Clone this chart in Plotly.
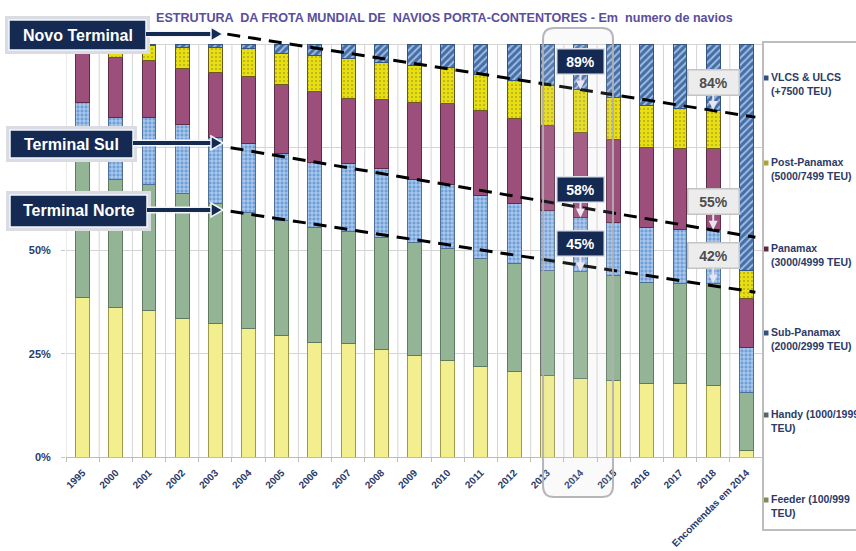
import numpy as np
import plotly.graph_objects as go

# ---- data: share of the world container-ship fleet (% of ships) ----
categories = ["1995", "2000", "2001", "2002", "2003", "2004", "2005", "2006", "2007",
              "2008", "2009", "2010", "2011", "2012", "2013", "2014", "2015", "2016",
              "2017", "2018", "Encomendas em 2014"]

feeder = [38.7, 36.3, 35.5, 33.6, 32.3, 31.0, 29.4, 27.8, 27.4, 26.0, 24.6, 23.4, 21.8,
          20.6, 19.8, 19.0, 18.5, 17.7, 17.7, 17.3, 1.6]
handy = [33.1, 31.0, 30.6, 30.1, 29.0, 28.3, 27.9, 27.8, 27.3, 27.2, 27.4, 27.0, 26.2,
         26.2, 25.4, 26.0, 25.5, 24.6, 24.2, 24.7, 14.1]
sub_panamax = [14.1, 15.0, 16.0, 16.8, 16.1, 16.5, 16.1, 15.8, 16.3, 16.6, 15.3, 15.6, 15.3,
               14.5, 14.5, 13.0, 12.9, 13.3, 13.3, 13.0, 10.9]
panamax = [14.1, 14.5, 13.9, 13.5, 15.6, 16.3, 16.7, 17.1, 15.9, 16.7, 18.6, 19.5, 20.6,
           20.7, 20.5, 20.6, 20.1, 19.4, 19.4, 19.6, 11.7]
post_panamax = [0.0, 3.2, 3.6, 5.2, 6.2, 6.9, 7.5, 8.7, 9.5, 9.1, 8.9, 8.9, 8.8,
                9.1, 9.7, 10.4, 10.1, 10.1, 9.7, 9.4, 6.9]
vlcs_ulcs = [0.0, 0.0, 0.4, 0.8, 0.8, 1.0, 2.4, 2.8, 3.6, 4.4, 5.2, 5.6, 7.3,
             8.9, 10.1, 11.0, 12.9, 14.9, 15.7, 16.0, 54.8]

# 75% and 100% labels sit behind the terminal boxes, so they are left blank
y_ticks = [0, 25, 50, 75, 100]
y_tick_labels = ["0%", "25%", "50%", "", ""]

# terminal trend lines: [x_start, y_start, x_end, y_end] in (category index, %)
novo_terminal_line = [4.36, 102.4, 20.27, 82.3]
terminal_sul_line = [4.46, 74.9, 20.27, 53.2]
terminal_norte_line = [4.46, 59.5, 20.27, 39.9]

# years whose cumulative shares are called out
highlight_year = "2014"
compare_year = "2018"

# ---- figure geometry ----
W, H = 856, 551
ML, MR, MT, MB = 66, 93, 11, 94
PW, PH = W - ML - MR, H - MT - MB
Y_MAX = 108


def fx(px):
    return (px - ML) / PW


def fy(py):
    return (H - MB - py) / PH


NAVY = "#142a52"
TXT = "#2b3a67"
FONT = "Liberation Sans, Arial, sans-serif"

fig = go.Figure()

series = [
    ("Feeder (100/999 TEU)", feeder,
     dict(color="#f3ef8e", line=dict(color="#9d9a4e", width=1))),
    ("Handy (1000/1999 TEU)", handy,
     dict(color="#93b595", line=dict(color="#5f7a5f", width=1))),
    ("Sub-Panamax (2000/2999 TEU)", sub_panamax,
     dict(color="#78a8df", line=dict(color="#50709a", width=1),
          pattern=dict(shape="+", fgcolor="#eef5ff", bgcolor="#6f9fd9", size=4,
                       solidity=0.25, fillmode="replace"))),
    ("Panamax (3000/4999 TEU)", panamax,
     dict(color="#9c4f7a", line=dict(color="#5e2c47", width=1))),
    ("Post-Panamax (5000/7499 TEU)", post_panamax,
     dict(color="#e6dd10", line=dict(color="#6b5a20", width=1),
          pattern=dict(shape=".", fgcolor="#b3ab1c", bgcolor="#e8df12", size=4,
                       solidity=0.2, fillmode="replace"))),
    ("VLCS & ULCS (+7500 TEU)", vlcs_ulcs,
     dict(color="#4a74ad", line=dict(color="#34557f", width=1),
          pattern=dict(shape="/", fgcolor="#a0bde2", bgcolor="#456ea6", size=5,
                       solidity=0.4, fillmode="replace"))),
]

for name, vals, marker in series:
    fig.add_trace(go.Bar(x=categories, y=vals, name=name, marker=marker,
                         showlegend=False, hoverinfo="skip"))

shapes = []

# vertical grid at category boundaries, from 0% to 100%
for k in range(len(categories) + 1):
    shapes.append(dict(type="line", xref="x", yref="y", x0=k - 0.5, x1=k - 0.5,
                       y0=0, y1=100, line=dict(color="#d4d4d4", width=1), layer="below"))

# dashed terminal trend lines
for ln in (novo_terminal_line, terminal_sul_line, terminal_norte_line):
    shapes.append(dict(type="line", xref="x", yref="y", x0=ln[0], y0=ln[1],
                       x1=ln[2], y1=ln[3], line=dict(color="black", width=3, dash="13px,8px")))

# rounded highlight frame around the highlighted year
hx0, hx1, hy0, hy1, r = 543, 613, 28, 497, 11
pts = [("M", hx0 + r, hy0), ("L", hx1 - r, hy0), ("Q", hx1, hy0, hx1, hy0 + r),
       ("L", hx1, hy1 - r), ("Q", hx1, hy1, hx1 - r, hy1), ("L", hx0 + r, hy1),
       ("Q", hx0, hy1, hx0, hy1 - r), ("L", hx0, hy0 + r), ("Q", hx0, hy0, hx0 + r, hy0)]
path = ""
for p in pts:
    cmd, coords = p[0], p[1:]
    xy = []
    for i in range(0, len(coords), 2):
        xy.append(f"{fx(coords[i]):.4f},{fy(coords[i + 1]):.4f}")
    path += cmd + " ".join(xy) + " "
path += "Z"
shapes.append(dict(type="path", xref="paper", yref="paper", path=path,
                   fillcolor="rgba(215,215,218,0.12)",
                   line=dict(color="rgba(175,175,180,0.9)", width=2)))

# legend panel
shapes.append(dict(type="rect", xref="paper", yref="paper", x0=fx(763), x1=fx(875),
                   y0=fy(42), y1=fy(530), fillcolor="white",
                   line=dict(color="#bdbdbd", width=2)))

# terminal callout boxes with arrows
boxes = [("Novo Terminal", 9, 146, 20, 50, 34),
         ("Terminal Sul", 10, 133, 130, 158, 143),
         ("Terminal Norte", 10, 147, 195, 227, 210)]
annotations = []
for text, bx0, bx1, by0, by1, ay in boxes:
    shapes.append(dict(type="rect", xref="paper", yref="paper", x0=fx(bx0 - 4), x1=fx(bx1 + 4),
                       y0=fy(by0 - 4), y1=fy(by1 + 4), fillcolor="#d9dce2",
                       line=dict(width=0)))
    shapes.append(dict(type="rect", xref="paper", yref="paper", x0=fx(bx0), x1=fx(bx1),
                       y0=fy(by0), y1=fy(by1), fillcolor=NAVY,
                       line=dict(color="#f4f6fa", width=1.5)))
    shapes.append(dict(type="line", xref="paper", yref="paper", x0=fx(bx1), x1=fx(213),
                       y0=fy(ay), y1=fy(ay), line=dict(color="#f4f6fa", width=7)))
    shapes.append(dict(type="line", xref="paper", yref="paper", x0=fx(bx1), x1=fx(214),
                       y0=fy(ay), y1=fy(ay), line=dict(color=NAVY, width=4)))
    head = (f"M{fx(211):.4f},{fy(ay - 7):.4f} L{fx(223):.4f},{fy(ay):.4f} "
            f"L{fx(211):.4f},{fy(ay + 7):.4f} Z")
    shapes.append(dict(type="path", xref="paper", yref="paper", path=head,
                       fillcolor=NAVY, line=dict(color="#f4f6fa", width=1.5)))
    annotations.append(dict(xref="paper", yref="paper", x=fx((bx0 + bx1) / 2),
                            y=fy((by0 + by1) / 2), text=text, showarrow=False,
                            xanchor="center", yanchor="middle",
                            font=dict(family=FONT, size=16, color="white", weight="bold")))

# cumulative share callouts for the highlighted and comparison years
stack = np.array([feeder, handy, sub_panamax, panamax, post_panamax], dtype=float)
cum = np.cumsum(stack, axis=0)
for year, dark in ((highlight_year, True), (compare_year, False)):
    i = categories.index(year)
    for level in (4, 2, 1):
        val = round(float(cum[level][i]), 1)
        annotations.append(dict(
            x=i, y=val, xref="x", yref="y", text=f"{val:.0f}%", showarrow=True,
            axref="pixel", ayref="pixel", ax=0, ay=-28,
            arrowhead=2, arrowsize=0.9, arrowwidth=2,
            arrowcolor="#efe6f2" if dark else "#e6e6ee",
            bgcolor=NAVY if dark else "#ececec",
            bordercolor="#dde2ea" if dark else "#c4c4c4", borderwidth=1.5, borderpad=4,
            width=38 if dark else 42,
            font=dict(family=FONT, size=14, weight="bold",
                      color="white" if dark else "#4d4d4d")))

# legend entries (top to bottom)
legend_items = [("VLCS & ULCS", "(+7500 TEU)", "#2f4f80", 78),
                ("Post-Panamax", "(5000/7499 TEU)", "#a9a236", 163),
                ("Panamax", "(3000/4999 TEU)", "#5a2a44", 249),
                ("Sub-Panamax", "(2000/2999 TEU)", "#34507c", 333),
                ("Handy (1000/1999", "TEU)", "#56695a", 415),
                ("Feeder (100/999", "TEU)", "#7f8a5a", 500)]
for l1, l2, mcol, ly in legend_items:
    shapes.append(dict(type="rect", xref="paper", yref="paper", x0=fx(764), x1=fx(768.5),
                       y0=fy(ly - 2.5), y1=fy(ly + 2.5), fillcolor=mcol, line=dict(width=0)))
    annotations.append(dict(xref="paper", yref="paper", x=fx(769), y=fy(ly + 6),
                            text=f"{l1}<br>{l2}", showarrow=False, xanchor="left",
                            yanchor="middle", align="left",
                            font=dict(family=FONT, size=10.5, color=TXT, weight="bold")))

# chart title
annotations.append(dict(xref="paper", yref="paper", x=fx(444), y=fy(18),
                        text="ESTRUTURA  DA FROTA MUNDIAL DE  NAVIOS PORTA-CONTENTORES - Em  numero de navios",
                        showarrow=False, xanchor="center", yanchor="middle",
                        font=dict(family=FONT, size=12.6, color="#5a4e9e", weight="bold")))

fig.update_layout(
    width=W, height=H,
    margin=dict(l=ML, r=MR, t=MT, b=MB, pad=0, autoexpand=False),
    barmode="stack", bargap=0.58,
    plot_bgcolor="white", paper_bgcolor="white",
    shapes=shapes, annotations=annotations,
    showlegend=False,
    xaxis=dict(type="category", tickangle=-45, showgrid=False, tickson="boundaries",
               ticks="outside", ticklen=4, tickcolor="#bdbdbd", showline=True,
               linecolor="#bdbdbd", range=[-0.5, len(categories) - 0.5],
               ticklabelstandoff=5, automargin=False,
               tickfont=dict(family=FONT, size=10, color=TXT, weight="bold")),
    yaxis=dict(range=[0, Y_MAX], tickvals=y_ticks, ticktext=y_tick_labels,
               showgrid=True, gridcolor="#d4d4d4", zeroline=False, showline=False,
               ticks="outside", ticklen=4, tickcolor="#c8c8c8", ticklabelstandoff=8,
               automargin=False,
               tickfont=dict(family=FONT, size=11, color=TXT, weight="bold")),
)

fig.write_html("out.html")
